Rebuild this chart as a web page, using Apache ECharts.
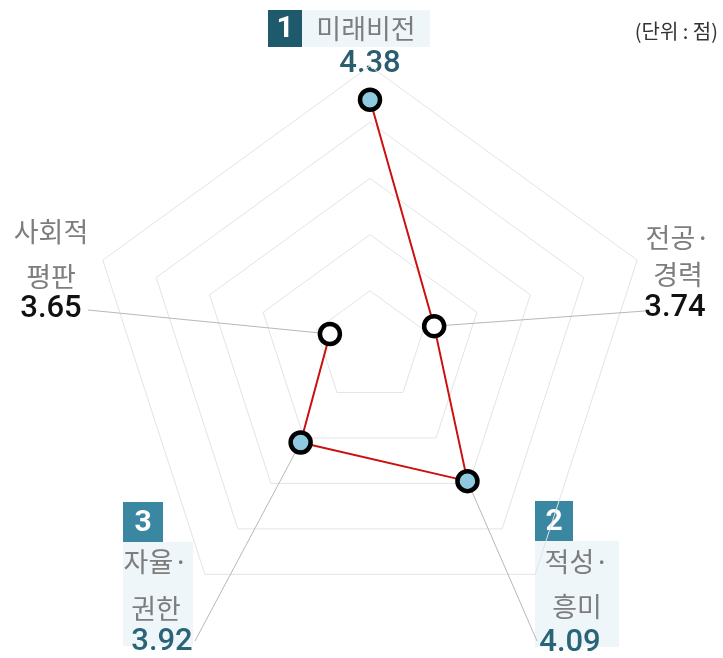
<!DOCTYPE html>
<html>
<head>
<meta charset="utf-8">
<title>radar</title>
<script src="https://cdn.jsdelivr.net/npm/echarts@6/dist/echarts.min.js"></script>
<style>
html,body{margin:0;padding:0;background:#fff;}
#main{width:723px;height:658px;}
</style>
</head>
<body>
<div id="main"></div>
<script>
// clockwise from the top
var nameLines = [['미래비전'], ['전공·', '경력'], ['적성·', '흥미'], ['자율·', '권한'], ['사회적', '평판']];
var scores = [4.38, 3.74, 4.09, 3.92, 3.65];
var ranks = [1, 0, 2, 3, 0];
var scoreMin = 3.5;
var scoreMax = 4.5;
var unitText = '(단위 : 점)';

// where each axis label sits (pixels)
var labelPos = [
	{x: 366, lines: [29], valueX: 370, valueY: 64, box: [268, 10, 34, 37], bg: [302, 10, 128, 37], anchor: null},
	{x: 678, lines: [238, 275], valueX: 675, valueY: 308, anchor: [645, 311]},
	{x: 577, lines: [562, 607], valueX: 570, valueY: 643, box: [535, 501, 38, 40], bg: [535, 541, 84, 106], anchor: [537, 641]},
	{x: 156, lines: [562, 609], valueX: 162, valueY: 642, box: [123, 502, 40, 40], bg: [123, 542, 70, 104], anchor: [195, 641]},
	{x: 51, lines: [232, 277], valueX: 51, valueY: 309, anchor: [88, 310]}
];

var KR = '"Noto Sans CJK KR", "Noto Sans", sans-serif';
var NUM = 'Roboto, "Noto Sans", sans-serif';

var graphics = [];
labelPos.forEach(function (p, i) {
	if (p.bg) {
		graphics.push({type: 'rect', shape: {x: p.bg[0], y: p.bg[1], width: p.bg[2], height: p.bg[3]}, style: {fill: '#eef6fa'}});
	}
	if (p.box) {
		graphics.push({type: 'rect', shape: {x: p.box[0], y: p.box[1], width: p.box[2], height: p.box[3]},
			style: {fill: ranks[i] == 1 ? '#1e5a6b' : '#3a87a2'}});
		graphics.push({type: 'text', style: {x: p.box[0] + p.box[2] / 2, y: p.box[1] + p.box[3] / 2 + 1,
			text: String(ranks[i]), fill: '#fff', font: 'bold 30px ' + NUM, align: 'center', verticalAlign: 'middle'}});
	}
	nameLines[i].forEach(function (t, k) {
		graphics.push({type: 'text', style: {x: i == 0 ? p.box[0] + p.box[2] + 64 : p.x, y: p.lines[k], text: t,
			fill: '#7d7d7d', font: '27px ' + KR, align: 'center', verticalAlign: 'middle'}});
	});
	graphics.push({type: 'text', style: {x: p.valueX, y: p.valueY, text: scores[i].toFixed(2),
		fill: ranks[i] ? (ranks[i] == 1 ? '#2a5d6d' : '#2a6577') : '#111',
		font: '500 31px ' + NUM, align: 'center', verticalAlign: 'middle'}});
});
graphics.push({type: 'text', style: {x: 718, y: 31, text: unitText, fill: '#333',
	font: '20px ' + KR, align: 'right', verticalAlign: 'middle'}});

var hidden = {axisLine: {show: false}, axisTick: {show: false}, axisLabel: {show: false}, splitLine: {show: false}};

var option = {
	animation: false,
	backgroundColor: '#fff',
	radar: {
		center: [370, 347],
		radius: 281,
		startAngle: 90,
		splitNumber: 5,
		shape: 'polygon',
		indicator: nameLines.map(function (l) { return {name: l.join(''), min: scoreMin, max: scoreMax}; }),
		axisName: {show: false},
		axisLine: {show: false},
		splitArea: {show: false},
		splitLine: {lineStyle: {color: '#e4e4e4', width: 1}}
	},
	polar: {center: [370, 347], radius: 281},
	angleAxis: Object.assign({type: 'category', data: nameLines.map(function (l) { return l.join(''); }),
		startAngle: 90, clockwise: true, boundaryGap: false, splitArea: {show: false}}, hidden),
	radiusAxis: Object.assign({min: scoreMin, max: scoreMax}, hidden),
	graphic: graphics,
	series: [
		{
			// leader lines from labels to points
			type: 'custom',
			coordinateSystem: 'polar',
			silent: true,
			z: 1,
			data: scores.map(function (v, i) { return [v, i]; }),
			renderItem: function (params, api) {
				var a = labelPos[params.dataIndex].anchor;
				if (!a) return null;
				var pt = api.coord([api.value(0), api.value(1)]);
				return {type: 'line', shape: {x1: a[0], y1: a[1], x2: pt[0], y2: pt[1]},
					style: {stroke: '#b8b8b8', lineWidth: 1}};
			}
		},
		{
			type: 'line',
			coordinateSystem: 'polar',
			symbol: 'none',
			z: 2,
			lineStyle: {color: '#cc1010', width: 2},
			data: scores.map(function (v, i) { return [v, i]; }).concat([[scores[0], 0]])
		},
		{
			type: 'scatter',
			coordinateSystem: 'polar',
			z: 3,
			symbolSize: 20,
			itemStyle: {borderColor: '#000', borderWidth: 4.5, opacity: 1},
			data: scores.map(function (v, i) {
				return {value: [v, i], itemStyle: {color: ranks[i] ? '#8ecae0' : '#fff'}};
			})
		}
	]
};

var chart = echarts.init(document.getElementById('main'));
chart.setOption(option);
</script>
</body>
</html>
